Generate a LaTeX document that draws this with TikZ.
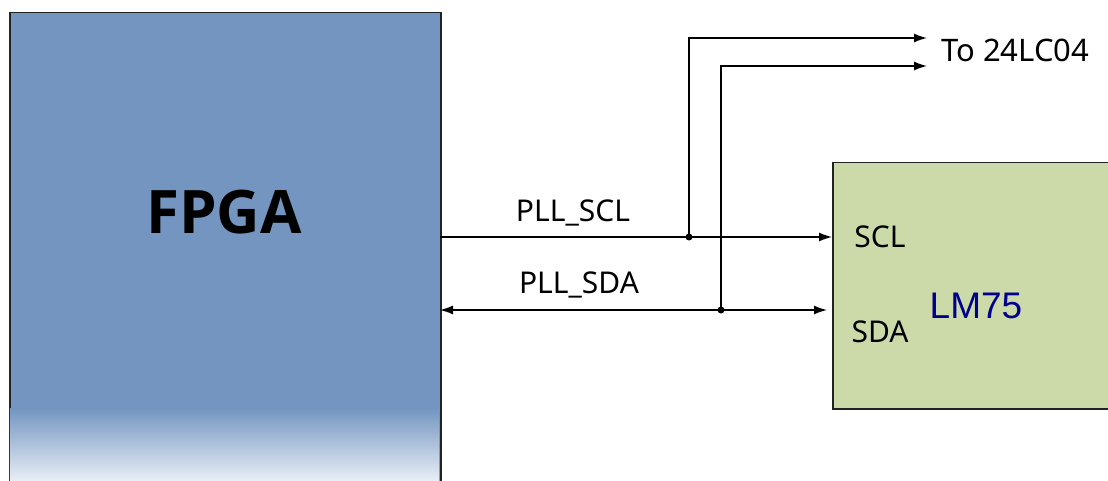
\documentclass[tikz,border=0pt]{standalone}
\usepackage{fontspec}
\setmainfont{Noto Sans}
\newfontfamily\arialf{Liberation Sans}
\newfontfamily\boldf{Open Sans}
\usetikzlibrary{arrows.meta}
\definecolor{fpgablue}{RGB}{115,149,192}
\definecolor{fpgalight}{RGB}{233,238,246}
\definecolor{lmgreen}{RGB}{204,218,170}
\definecolor{edge}{RGB}{34,34,34}
\definecolor{navytxt}{RGB}{0,0,140}
\tikzset{
  boxfill/.style={rectangle, anchor=north west, inner sep=0pt, draw=edge, line width=1.5pt},
  wire/.style={line width=1.4pt, draw=black},
  tip/.style={-{Latex[length=13pt,width=9pt]}},
  dtip/.style={{Latex[length=13pt,width=9pt]}-{Latex[length=13pt,width=9pt]}},
  junction/.style={circle, fill=black, inner sep=0pt, minimum size=7pt},
  lbl/.style={inner sep=0pt, font=\fontsize{30}{35}\selectfont},
}
\begin{document}
\begin{tikzpicture}[x=1pt,y=-1pt]
\useasboundingbox (0,0) rectangle (1108,481);
% FPGA box
\node[boxfill, fill=fpgablue, minimum width=431pt, minimum height=500pt] (fpga) at (9,12) {};
\shade[top color=fpgablue, bottom color=fpgalight] (9.8,408) rectangle (439.2,481);
\node[font=\boldf\bfseries\fontsize{60}{70}\selectfont, inner sep=0pt] (fpgalbl) at (224,212) {FPGA};
% LM75 box
\node[boxfill, fill=lmgreen, minimum width=300pt, minimum height=246pt] (lm) at (832,162) {};
\node[lbl] (scl) at (880,237) {SCL};
\node[lbl] (sda) at (880,332) {SDA};
\node[inner sep=0pt, text=navytxt, font=\arialf\fontsize{37}{42}\selectfont] (lmlbl) at (976,306) {LM75};
% coordinates
\coordinate (sclA) at (440,237);
\coordinate (sclB) at (832,237);
\coordinate (sdaA) at (440,310);
\coordinate (sdaB) at (827,310);
\node[junction] (j1) at (689,237) {};
\node[junction] (j2) at (721,310) {};
\coordinate (c1) at (689,38);
\coordinate (c2) at (721,66);
\coordinate (e1) at (927,38);
\coordinate (e2) at (927,66);
% wires
\draw[wire, tip] (sclA) -- (sclB);
\draw[wire, dtip] (sdaA) -- (sdaB);
\draw[wire, tip] (j1.center) -- (c1) -- (e1);
\draw[wire, tip] (j2.center) -- (c2) -- (e2);
% labels
\node[lbl] (pscl) at (573,213) {PLL\_SCL};
\node[lbl] (psda) at (579,285) {PLL\_SDA};
\node[lbl, anchor=west, font=\fontsize{31}{36}\selectfont] (to) at (941,50) {To 24LC04};
\end{tikzpicture}
\end{document}
